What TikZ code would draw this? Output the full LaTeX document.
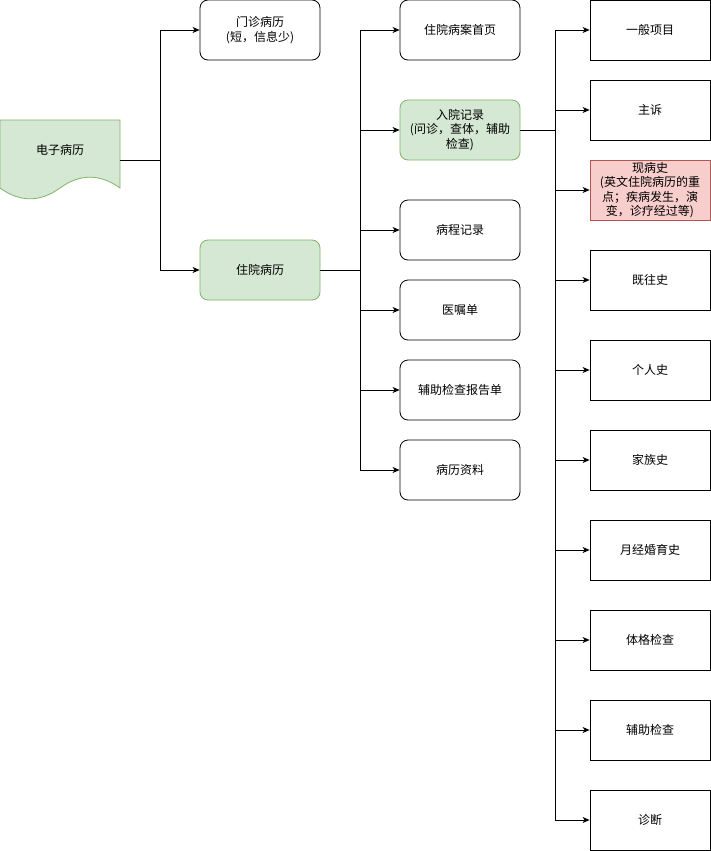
\documentclass[tikz,border=0pt]{standalone}
\usepackage{fontspec}
\setmainfont{Noto Sans CJK SC}
\usetikzlibrary{arrows.meta}
\definecolor{gfill}{HTML}{D5E8D4}
\definecolor{gline}{HTML}{82B366}
\definecolor{rfill}{HTML}{F8CECC}
\definecolor{rline}{HTML}{B85450}
\tikzset{
  box/.style={draw=black, line width=0.8pt, minimum width=120pt, minimum height=60pt, inner sep=2pt, align=center, font=\fontsize{12}{14.5}\selectfont},
  rbox/.style={box, rounded corners=8pt},
  gbox/.style={rbox, fill=gfill, draw=gline},
  redbox/.style={box, fill=rfill, draw=rline},
  arr/.style={draw=black, line width=0.8pt, -{Stealth[length=7pt,width=6pt,inset=2pt]}},
  ln/.style={draw=black, line width=0.8pt}
}
\begin{document}
\begin{tikzpicture}[x=1pt,y=-1pt]
\useasboundingbox (0,0) rectangle (711,851);
% document shape
\filldraw[fill=gfill, draw=gline, line width=0.8pt]
  (0,120) -- (120,120) -- (120,188)
  .. controls (100,173.6) and (80,173.6) .. (60,188)
  .. controls (40,202.4) and (20,202.4) .. (0,188) -- cycle;
\node[font=\fontsize{12}{14.5}\selectfont] (emr) at (60,150) {电子病历};
\coordinate (emrR) at (120,160);

% level 1
\node[rbox] (mz) at (260,30) {门诊病历\\(短，信息少)};
\node[gbox] (zy) at (260,270) {住院病历};

% level 2
\node[rbox] (sy) at (460,30) {住院病案首页};
\node[gbox] (ry) at (460,130) {入院记录\\(问诊，查体，辅助\\检查)};
\node[rbox] (bc) at (460,230) {病程记录};
\node[rbox] (yz) at (460,310) {医嘱单};
\node[rbox] (fz) at (460,390) {辅助检查报告单};
\node[rbox] (zl) at (460,470) {病历资料};

% level 3
\node[box] (yb) at (650,30) {一般项目};
\node[box] (zs) at (650,110) {主诉};
\node[redbox] (xb) at (650,190) {现病史\\(英文住院病历的重\\点；疾病发生，演\\变，诊疗经过等)};
\node[box] (jw) at (650,280) {既往史};
\node[box] (gr) at (650,370) {个人史};
\node[box] (jz) at (650,460) {家族史};
\node[box] (yj) at (650,550) {月经婚育史};
\node[box] (tg) at (650,640) {体格检查};
\node[box] (fj) at (650,730) {辅助检查};
\node[box] (zd) at (650,820) {诊断};

% connectors
\foreach \t in {mz,zy} \draw[arr] (emrR) -- ++(40,0) |- (\t.west);
\foreach \t in {sy,ry,bc,yz,fz,zl} \draw[arr] (zy.east) -- ++(40,0) |- (\t.west);
\foreach \t in {yb,zs,xb,jw,gr,jz,yj,tg,fj,zd} \draw[arr] (ry.east) -- ++(35,0) |- (\t.west);
\end{tikzpicture}
\end{document}
